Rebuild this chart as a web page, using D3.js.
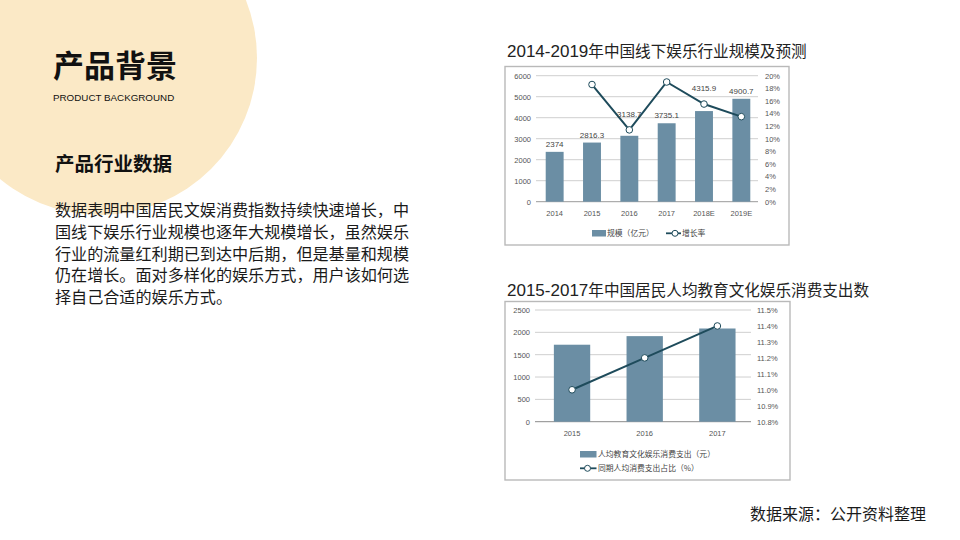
<!DOCTYPE html>
<html><head><meta charset="utf-8">
<script src="https://cdn.jsdelivr.net/npm/d3@7"></script>
<style>body{margin:0;background:#fff}svg{display:block}</style>
</head><body><svg id="c" width="960" height="540"></svg>
<script>
// ---------- data ----------
const years1 = ["2014", "2015", "2016", "2017", "2018E", "2019E"];
const scale1 = [2374, 2816.3, 3138.7, 3735.1, 4315.9, 4900.7];
const growth1 = [null, 18.6, 11.4, 19.0, 15.5, 13.5];
const leftTicks1 = [0, 1000, 2000, 3000, 4000, 5000, 6000];
const rightTicks1 = [0, 2, 4, 6, 8, 10, 12, 14, 16, 18, 20];

const years2 = ["2015", "2016", "2017"];
const spend2 = [1723, 1915, 2086];
const share2 = [11.0, 11.2, 11.4];
const leftTicks2 = [0, 500, 1000, 1500, 2000, 2500];
const rightTicks2 = [10.8, 10.9, 11.0, 11.1, 11.2, 11.3, 11.4, 11.5];

const title1 = ["2014-2019", "年中国线下娱乐行业规模及预测"];
const title2 = ["2015-2017", "年中国居民人均教育文化娱乐消费支出数"];
const legend1 = ["规模（亿元）", "增长率"];
const legend2 = ["人均教育文化娱乐消费支出（元）", "同期人均消费支出占比（%）"];
const paragraph = [
  "数据表明中国居民文娱消费指数持续快速增长，中",
  "国线下娱乐行业规模也逐年大规模增长，虽然娱乐",
  "行业的流量红利期已到达中后期，但是基量和规模",
  "仍在增长。面对多样化的娱乐方式，用户该如何选",
  "择自己合适的娱乐方式。"
];

// ---------- styles ----------
const CJK = "'Noto Sans CJK SC', 'Noto Sans', sans-serif";
const LAT = "'Liberation Sans', Arial, 'Noto Sans CJK SC', sans-serif";
const BAR = "#6b8ea4";
const LINE = "#1e4b5b";
const GRID = "#cfcfcf";
const TICK = "#555";

const svg = d3.select("#c");

// decorative circle
svg.append("circle").attr("cx", 100).attr("cy", 58).attr("r", 157).attr("fill", "#fbe9c6");

// headings
svg.append("text").attr("x", 53).attr("y", 77).attr("font-family", CJK).attr("font-weight", 700)
  .attr("font-size", 31).attr("fill", "#111").text("产品背景");
svg.append("text").attr("x", 53).attr("y", 101).attr("font-family", LAT)
  .attr("font-size", 9.8).attr("fill", "#111").text("PRODUCT BACKGROUND");
svg.append("text").attr("x", 55).attr("y", 171).attr("font-family", CJK).attr("font-weight", 700)
  .attr("font-size", 19.5).attr("fill", "#111").text("产品行业数据");

svg.append("g").selectAll("text").data(paragraph).join("text")
  .attr("x", 55).attr("y", (d, i) => 216 + i * 21.8)
  .attr("font-family", CJK).attr("font-size", 16.1).attr("fill", "#1a1a1a").text(d => d);

svg.append("text").attr("x", 750).attr("y", 520).attr("font-family", CJK)
  .attr("font-size", 16).attr("fill", "#1a1a1a").text("数据来源：公开资料整理");

// chart titles
function title(t, x, y) {
  const tx = svg.append("text").attr("x", x).attr("y", y).attr("fill", "#222");
  tx.append("tspan").attr("font-family", LAT).attr("font-size", 17).text(t[0]);
  tx.append("tspan").attr("font-family", CJK).attr("font-size", 15.6).text(t[1]);
}
title(title1, 507, 56.5);
title(title2, 507, 295.5);

// boxes
svg.append("rect").attr("x", 505).attr("y", 66.5).attr("width", 284).attr("height", 178.5)
  .attr("fill", "none").attr("stroke", "#b9b9b9").attr("stroke-width", 1.4);
svg.append("rect").attr("x", 505).attr("y", 301.5).attr("width", 285).attr("height", 178.5)
  .attr("fill", "none").attr("stroke", "#b9b9b9").attr("stroke-width", 1.4);

function axisStyle(g) {
  g.select(".domain").remove();
  g.selectAll("line").remove();
  g.selectAll("text").attr("font-family", LAT).attr("font-size", 7.5).attr("fill", TICK);
}

// ---------- chart 1 ----------
{
  const x = d3.scaleBand().domain(years1).range([536, 760]).paddingInner(0.52).paddingOuter(0.26);
  const yL = d3.scaleLinear().domain([0, 6000]).range([201.7, 75.7]);
  const yR = d3.scaleLinear().domain([0, 20]).range([201.7, 75.7]);
  const gx0 = 536, gx1 = 758;

  svg.append("g").selectAll("line").data(leftTicks1).join("line")
    .attr("x1", gx0).attr("x2", gx1).attr("y1", d => yL(d)).attr("y2", d => yL(d))
    .attr("stroke", d => d === 0 ? "#9a9a9a" : GRID).attr("stroke-width", 1);

  svg.append("g").attr("transform", `translate(${gx0 - 1},0)`)
    .call(d3.axisLeft(yL).tickValues(leftTicks1).tickSize(0).tickPadding(4).tickFormat(d3.format("d")))
    .call(axisStyle);
  svg.append("g").attr("transform", `translate(${gx1},0)`)
    .call(d3.axisRight(yR).tickValues(rightTicks1).tickSize(0).tickPadding(7).tickFormat(d => d + "%"))
    .call(axisStyle);
  svg.append("g").attr("transform", `translate(0,${yL(0)})`)
    .call(d3.axisBottom(x).tickSize(0).tickPadding(9))
    .call(axisStyle);

  svg.append("g").selectAll("rect").data(scale1).join("rect")
    .attr("x", (d, i) => x(years1[i])).attr("width", x.bandwidth())
    .attr("y", d => yL(d)).attr("height", d => yL(0) - yL(d)).attr("fill", BAR);

  const pts = growth1.map((g, i) => ({ g, i })).filter(p => p.g !== null);
  svg.append("path").datum(pts)
    .attr("d", d3.line().x(p => x(years1[p.i]) + x.bandwidth() / 2).y(p => yR(p.g)))
    .attr("fill", "none").attr("stroke", LINE).attr("stroke-width", 2);
  svg.append("g").selectAll("circle").data(pts).join("circle")
    .attr("cx", p => x(years1[p.i]) + x.bandwidth() / 2).attr("cy", p => yR(p.g)).attr("r", 3.3)
    .attr("fill", "#fff").attr("stroke", LINE).attr("stroke-width", 1);

  svg.append("g").selectAll("text").data(scale1).join("text")
    .attr("x", (d, i) => x(years1[i]) + x.bandwidth() / 2)
    .attr("y", (d, i) => {
      const top = yL(d);
      const g = growth1[i];
      if (g !== null) {
        const my = yR(g);
        if (my < top && top - my < 20) return my - 13;
      }
      return top - 5;
    })
    .attr("text-anchor", "middle").attr("font-family", LAT).attr("font-size", 8).attr("fill", "#444")
    .text(d => d);

  // legend
  const lg = svg.append("g");
  lg.append("rect").attr("x", 592).attr("y", 230).attr("width", 14).attr("height", 6.5).attr("fill", BAR);
  lg.append("text").attr("x", 607).attr("y", 236.3).attr("font-family", CJK).attr("font-size", 7.8)
    .attr("fill", "#444").text(legend1[0]);
  lg.append("line").attr("x1", 666).attr("x2", 681).attr("y1", 233.3).attr("y2", 233.3)
    .attr("stroke", LINE).attr("stroke-width", 1.8);
  lg.append("circle").attr("cx", 675).attr("cy", 233.3).attr("r", 3).attr("fill", "#fff")
    .attr("stroke", LINE).attr("stroke-width", 1);
  lg.append("text").attr("x", 682).attr("y", 236.3).attr("font-family", CJK).attr("font-size", 7.8)
    .attr("fill", "#444").text(legend1[1]);
}

// ---------- chart 2 ----------
{
  const x = d3.scaleBand().domain(years2).range([535.7, 753.7]).paddingInner(0.5).paddingOuter(0.25);
  const yL = d3.scaleLinear().domain([0, 2500]).range([421.7, 310]);
  const yR = d3.scaleLinear().domain([10.8, 11.5]).range([421.7, 310]);
  const gx0 = 535, gx1 = 751;

  svg.append("g").selectAll("line").data(leftTicks2).join("line")
    .attr("x1", gx0).attr("x2", gx1).attr("y1", d => yL(d)).attr("y2", d => yL(d))
    .attr("stroke", d => d === 0 ? "#8a8a8a" : GRID).attr("stroke-width", 1);

  svg.append("g").attr("transform", `translate(${gx0 - 1},0)`)
    .call(d3.axisLeft(yL).tickValues(leftTicks2).tickSize(0).tickPadding(4).tickFormat(d3.format("d")))
    .call(axisStyle);
  svg.append("g").attr("transform", `translate(${gx1},0)`)
    .call(d3.axisRight(yR).tickValues(rightTicks2).tickSize(0).tickPadding(6).tickFormat(d => d3.format(".1f")(d) + "%"))
    .call(axisStyle);
  svg.append("g").attr("transform", `translate(0,${yL(0)})`)
    .call(d3.axisBottom(x).tickSize(0).tickPadding(9))
    .call(axisStyle);

  svg.append("g").selectAll("rect").data(spend2).join("rect")
    .attr("x", (d, i) => x(years2[i])).attr("width", x.bandwidth())
    .attr("y", d => yL(d)).attr("height", d => yL(0) - yL(d)).attr("fill", BAR);

  svg.append("path").datum(share2)
    .attr("d", d3.line().x((d, i) => x(years2[i]) + x.bandwidth() / 2).y(d => yR(d)))
    .attr("fill", "none").attr("stroke", LINE).attr("stroke-width", 2);
  svg.append("g").selectAll("circle").data(share2).join("circle")
    .attr("cx", (d, i) => x(years2[i]) + x.bandwidth() / 2).attr("cy", d => yR(d)).attr("r", 3.3)
    .attr("fill", "#fff").attr("stroke", LINE).attr("stroke-width", 1);

  const lg = svg.append("g");
  lg.append("rect").attr("x", 580).attr("y", 451).attr("width", 16.5).attr("height", 6.5).attr("fill", BAR);
  lg.append("text").attr("x", 598).attr("y", 457.3).attr("font-family", CJK).attr("font-size", 7.8)
    .attr("fill", "#444").text(legend2[0]);
  lg.append("line").attr("x1", 580).attr("x2", 596.5).attr("y1", 468.3).attr("y2", 468.3)
    .attr("stroke", LINE).attr("stroke-width", 1.8);
  lg.append("circle").attr("cx", 587.5).attr("cy", 468.3).attr("r", 3).attr("fill", "#fff")
    .attr("stroke", LINE).attr("stroke-width", 1);
  lg.append("text").attr("x", 598).attr("y", 471.3).attr("font-family", CJK).attr("font-size", 7.8)
    .attr("fill", "#444").text(legend2[1]);
}
</script></body></html>
